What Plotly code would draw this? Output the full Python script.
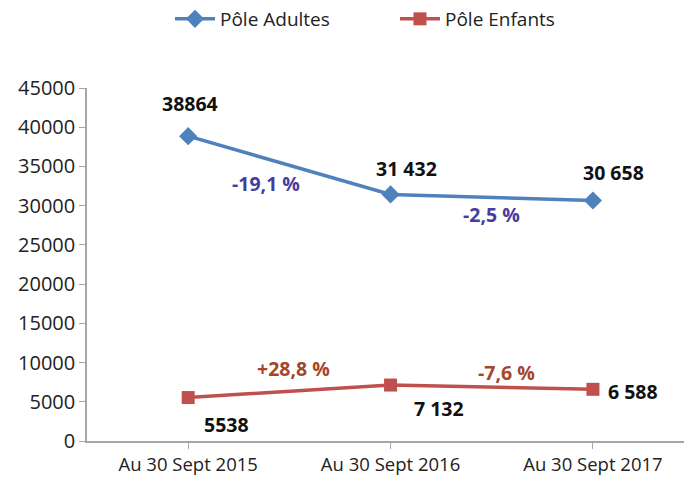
import plotly.graph_objects as go

categories = ["Au 30 Sept 2015", "Au 30 Sept 2016", "Au 30 Sept 2017"]
adultes = [38864, 31432, 30658]
enfants = [5538, 7132, 6588]
adultes_labels = ["38864", "31 432", "30 658"]
enfants_labels = ["5538", "7 132", "6 588"]
adultes_pct = ["-19,1 %", "-2,5 %"]
enfants_pct = ["+28,8 %", "-7,6 %"]
y_ticks = [0, 5000, 10000, 15000, 20000, 25000, 30000, 35000, 40000, 45000]

BLUE = "#4F81BD"
RED = "#C0504D"
FONT = "Open Sans"

fig = go.Figure()
fig.add_trace(go.Scatter(x=list(range(3)), y=adultes, mode="lines+markers", name="Pôle Adultes",
                         line=dict(color=BLUE, width=3.5),
                         marker=dict(symbol="diamond", size=14, color=BLUE)))
fig.add_trace(go.Scatter(x=list(range(3)), y=enfants, mode="lines+markers", name="Pôle Enfants",
                         line=dict(color=RED, width=3.5),
                         marker=dict(symbol="square", size=13, color=RED)))

ann = []
lbl_font = dict(family=FONT, size=19.5, color="#111111")
a_shift = [(2, 33), (16, 26), (21, 28)]
e_shift = [(38, -27), (48, -23), (40, -2)]
for i in range(3):
    ann.append(dict(x=i, y=adultes[i], text="<b>%s</b>" % adultes_labels[i], showarrow=False,
                    xshift=a_shift[i][0], yshift=a_shift[i][1], font=lbl_font))
    ann.append(dict(x=i, y=enfants[i], text="<b>%s</b>" % enfants_labels[i], showarrow=False,
                    xshift=e_shift[i][0], yshift=e_shift[i][1], font=lbl_font))
ap_shift = [(-23, -18), (0, -17)]
ep_shift = [(4, 23), (15, 15)]
for i in range(2):
    ann.append(dict(x=i + 0.5, y=(adultes[i] + adultes[i + 1]) / 2, text="<b>%s</b>" % adultes_pct[i],
                    showarrow=False, xshift=ap_shift[i][0], yshift=ap_shift[i][1],
                    font=dict(family=FONT, size=19.5, color="#463D9E")))
    ann.append(dict(x=i + 0.5, y=(enfants[i] + enfants[i + 1]) / 2, text="<b>%s</b>" % enfants_pct[i],
                    showarrow=False, xshift=ep_shift[i][0], yshift=ep_shift[i][1],
                    font=dict(family=FONT, size=19.5, color="#A4452C")))

fig.update_layout(
    width=684, height=487,
    margin=dict(l=87, r=0, t=88, b=46, autoexpand=False),
    paper_bgcolor="white", plot_bgcolor="white",
    font=dict(family=FONT, size=17, color="#222222"),
    showlegend=True,
    legend=dict(orientation="h", x=0.139, xanchor="left", y=1.0, yref="container", yanchor="top",
                font=dict(family=FONT, size=19, color="#222222"), itemwidth=40,
                entrywidth=170),
    annotations=ann,
    xaxis=dict(range=[-0.5, 2.45], tickmode="array", tickvals=list(range(3)), ticktext=categories,
               showgrid=False, zeroline=False, showline=True, linecolor="#A6A6A6", linewidth=1.5,
               ticks="outside", tickson="boundaries", ticklen=6, tickcolor="#A6A6A6",
               tickfont=dict(family=FONT, size=18.5, color="#222222")),
    yaxis=dict(range=[0, 45000], tickmode="array", tickvals=y_ticks, ticktext=[str(v) for v in y_ticks],
               showgrid=False, zeroline=False, showline=True, linecolor="#A6A6A6", linewidth=1.5,
               ticks="outside", ticklen=6, tickcolor="#A6A6A6",
               tickfont=dict(family=FONT, size=20, color="#222222")),
)
# remove the default 8px page margin so the figure fills the window exactly
fig.write_html("out.html", config={"displayModeBar": False},
               post_script="document.body.style.margin='0';")
